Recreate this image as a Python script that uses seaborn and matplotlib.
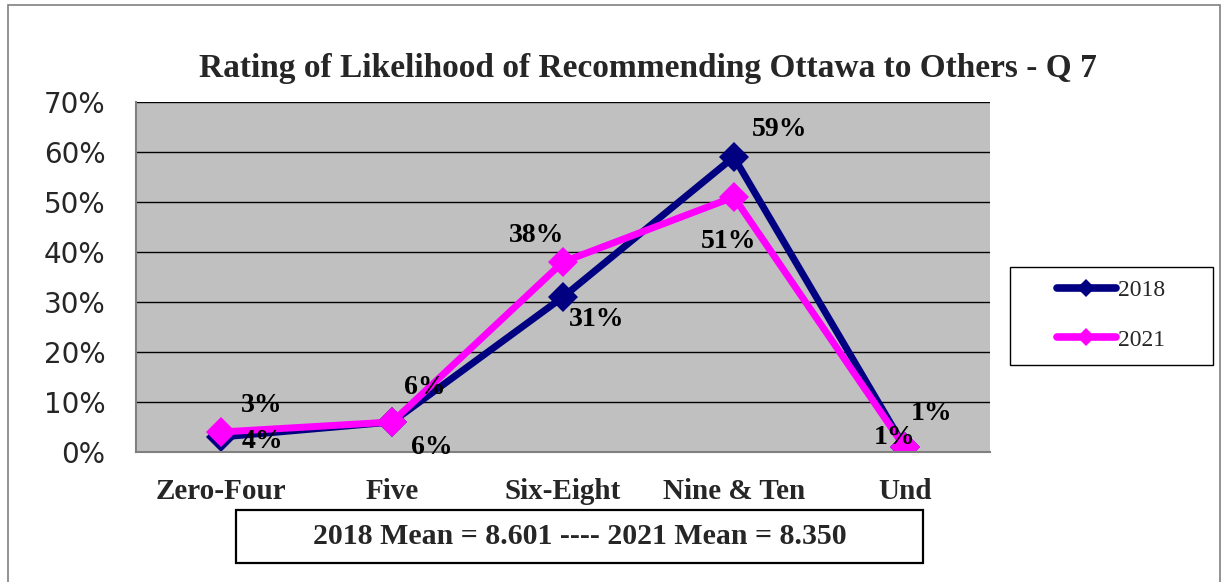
import matplotlib
matplotlib.use("Agg")
import matplotlib.pyplot as plt
from matplotlib.patches import Rectangle
from matplotlib.ticker import FixedLocator
import seaborn as sns
import pandas as pd

categories = ["Zero-Four", "Five", "Six-Eight", "Nine & Ten", "Und"]
values_2018 = [3, 6, 31, 59, 1]
values_2021 = [4, 6, 38, 51, 1]
years = ["2018", "2021"]
y_ticks = [0, 10, 20, 30, 40, 50, 60, 70]
title = "Rating of Likelihood of Recommending Ottawa to Others - Q 7"
mean_text = "2018 Mean = 8.601 ---- 2021 Mean = 8.350"

df = pd.DataFrame({
    "category": categories * 2,
    "value": values_2018 + values_2021,
    "year": [years[0]] * len(categories) + [years[1]] * len(categories),
})

sns.set_style("white")
serif = ["Liberation Serif", "DejaVu Serif"]
sans = ["DejaVu Sans"]

W, H, DPI = 1227, 582, 100
fig = plt.figure(figsize=(W / DPI, H / DPI), dpi=DPI)
fig.patch.set_facecolor("white")

# outer chart frame
fig.patches.append(Rectangle((8 / W, -0.05), (1220 - 8) / W, 577 / H + 0.05,
                             transform=fig.transFigure, fill=False,
                             edgecolor="#808080", linewidth=1.2))

ax = fig.add_axes([136 / W, 1 - 452 / H, (990 - 136) / W, (452 - 102) / H])
ax.set_facecolor("#C0C0C0")

palette = {"2018": "#000080", "2021": "#FF00FF"}
sns.lineplot(data=df, x="category", y="value", hue="year", palette=palette,
             marker="D", markersize=15, markeredgewidth=0, linewidth=5.0,
             sort=False, ax=ax, legend=True)

ax.set_xlim(-0.5, len(categories) - 0.5)
ax.set_ylim(0, 70)
ax.set_yticks(y_ticks)
ax.set_yticklabels([f"{v}%" for v in y_ticks], fontsize=20, family=sans)
ax.yaxis.grid(True, color="black", linewidth=1.0)
ax.set_axisbelow(True)
ax.tick_params(axis="y", length=7, width=1.2, color="#808080", pad=15)

ax.set_xticks(range(len(categories)))
ax.set_xticklabels(categories, fontsize=21, fontweight="bold", family=serif)
ax.tick_params(axis="x", length=0, pad=19)
ax.xaxis.set_minor_locator(FixedLocator([i + 0.5 for i in range(-1, len(categories))]))
ax.tick_params(axis="x", which="minor", length=8, width=1.2, color="#808080", direction="out")
ax.set_xlabel("")
ax.set_ylabel("")

for side in ["top", "right"]:
    ax.spines[side].set_visible(False)
for side in ["left", "bottom"]:
    ax.spines[side].set_color("#808080")
    ax.spines[side].set_linewidth(1.5)

# value labels (offsets in pixels: dx, dy with dy downward)
offsets_2018 = [(40, -32), (40, 25), (34, 22), (46, -27), (27, -34)]
offsets_2021 = [(41, 10), (33, -35), (-26, -26), (-5, 45), (-10, -10)]
for vals, offs in [(values_2018, offsets_2018), (values_2021, offsets_2021)]:
    for i, (v, (dx, dy)) in enumerate(zip(vals, offs)):
        ax.annotate(f"{v}%", xy=(i, v), xytext=(dx * 0.72, -dy * 0.72),
                    textcoords="offset points", ha="center", va="center",
                    fontsize=20, fontweight="bold", family=serif, color="black")

# legend, with its own square frame
handles, labels = ax.get_legend_handles_labels()
leg = ax.legend(handles, labels, loc="center", bbox_to_anchor=(1111 / W, 1 - 315 / H),
                bbox_transform=fig.transFigure, frameon=False,
                prop={"family": serif, "size": 17},
                handlelength=2.5, labelspacing=1.2, borderpad=0.3, handletextpad=0.1,
                borderaxespad=0)
for h in leg.get_lines():
    h.set_markersize(9)
    h.set_linewidth(5.5)
    h.set_solid_capstyle("round")
fig.patches.append(Rectangle((1010 / W, 1 - 365 / H), (1213 - 1010) / W, (365 - 267) / H,
                             transform=fig.transFigure, fill=False,
                             edgecolor="black", linewidth=1.0))

# title
fig.text(648 / W, 1 - 68 / H, title, ha="center", va="center",
         fontsize=24, fontweight="bold", family=serif)

# mean box
fig.patches.append(Rectangle((236 / W, 1 - 563 / H), (923 - 236) / W, (563 - 510) / H,
                             transform=fig.transFigure, fill=False,
                             edgecolor="black", linewidth=1.6))
fig.text(580 / W, 1 - 537 / H, mean_text, ha="center", va="center",
         fontsize=21.5, fontweight="bold", family=serif)

fig.savefig("out.png", dpi=DPI)
